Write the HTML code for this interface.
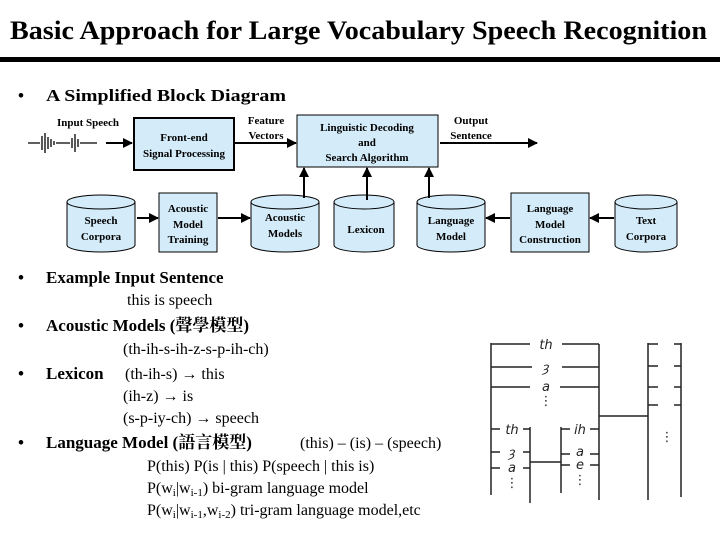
<!DOCTYPE html>
<html><head><meta charset="utf-8"><style>
html,body{margin:0;padding:0;background:#fff;}
svg{display:block;font-family:"Liberation Serif","Noto Serif CJK SC",serif;}
</style></head><body>
<svg width="720" height="540" viewBox="0 0 720 540" xmlns="http://www.w3.org/2000/svg">
<defs>
<marker id="a" viewBox="0 0 10 10" refX="9" refY="5" markerWidth="5" markerHeight="5" orient="auto"><path d="M0,0L10,5L0,10z" fill="#000"/></marker>
</defs>
<text x="10" y="39" font-size="26" font-weight="bold" textLength="697" lengthAdjust="spacingAndGlyphs">Basic Approach for Large Vocabulary Speech Recognition</text>
<rect x="0" y="57" width="720" height="5" fill="#000"/>
<g font-weight="bold" font-size="17">
<text x="18" y="101">•</text><text x="46" y="101" textLength="240" lengthAdjust="spacingAndGlyphs">A Simplified Block Diagram</text>
<text x="18" y="283">•</text><text x="46" y="283">Example Input Sentence</text>
<text x="18" y="331">•</text><text x="46" y="331">Acoustic Models (聲學模型)</text>
<text x="18" y="379">•</text><text x="46" y="379">Lexicon</text>
<text x="18" y="448">•</text><text x="46" y="448">Language Model (語言模型)</text>
</g>
<g font-size="16">
<text x="127" y="305">this is speech</text>
<text x="123" y="354">(th-ih-s-ih-z-s-p-ih-ch)</text>
<text x="125" y="379">(th-ih-s) → this</text>
<text x="123" y="401">(ih-z) → is</text>
<text x="123" y="423">(s-p-iy-ch) → speech</text>
<text x="300" y="448">(this) – (is) – (speech)</text>
<text x="147" y="471">P(this) P(is | this) P(speech | this is)</text>
<text x="147" y="493">P(w<tspan font-size="11" dy="3">i</tspan><tspan dy="-3">|w</tspan><tspan font-size="11" dy="3">i-1</tspan><tspan dy="-3">)        bi-gram language  model</tspan></text>
<text x="147" y="515">P(w<tspan font-size="11" dy="3">i</tspan><tspan dy="-3">|w</tspan><tspan font-size="11" dy="3">i-1</tspan><tspan dy="-3">,w</tspan><tspan font-size="11" dy="3">i-2</tspan><tspan dy="-3">) tri-gram language model,etc</tspan></text>
</g>
<!-- block diagram -->
<g font-size="11" font-weight="bold" text-anchor="middle">
<text x="88" y="126">Input Speech</text>
<path d="M28,143 L40,143 M42,136 L42,150 M45,133 L45,153 M48,137 L48,149 M51,139 L51,147 M54,141 L54,145 M56,143 L70,143 M72,138 L72,148 M75,134 L75,152 M78,139 L78,147 M80,143 L97,143" stroke="#000" stroke-width="1.3" fill="none"/>
<line x1="106" y1="143" x2="132" y2="143" stroke="#000" stroke-width="2" marker-end="url(#a)"/>
<rect x="134" y="118" width="100" height="52" fill="#d4ecf9" stroke="#000" stroke-width="2"/>
<text x="184" y="141">Front-end</text><text x="184" y="157">Signal Processing</text>
<text x="266" y="124">Feature</text><text x="266" y="139">Vectors</text>
<line x1="235" y1="143" x2="296" y2="143" stroke="#000" stroke-width="2" marker-end="url(#a)"/>
<rect x="297" y="115" width="141" height="52" fill="#d4ecf9" stroke="#000" stroke-width="1"/>
<text x="367" y="131">Linguistic Decoding</text><text x="367" y="146">and</text><text x="367" y="161">Search Algorithm</text>
<text x="471" y="124">Output</text><text x="471" y="139">Sentence</text>
<line x1="440" y1="143" x2="537" y2="143" stroke="#000" stroke-width="2" marker-end="url(#a)"/>
<g fill="#d4ecf9" stroke="#000" stroke-width="1">
<path d="M67,202 V245 A34,7 0 0 0 135,245 V202 A34,7 0 0 0 67,202 A34,7 0 0 0 135,202"/>
<path d="M251,202 V245 A34,7 0 0 0 319,245 V202 A34,7 0 0 0 251,202 A34,7 0 0 0 319,202"/>
<path d="M334,202 V245 A30,7 0 0 0 394,245 V202 A30,7 0 0 0 334,202 A30,7 0 0 0 394,202"/>
<path d="M417,202 V245 A34,7 0 0 0 485,245 V202 A34,7 0 0 0 417,202 A34,7 0 0 0 485,202"/>
<path d="M615,202 V245 A31,7 0 0 0 677,245 V202 A31,7 0 0 0 615,202 A31,7 0 0 0 677,202"/>
<rect x="159" y="193" width="58" height="59"/>
<rect x="511" y="193" width="78" height="59"/>
</g>
<text x="101" y="224">Speech</text><text x="101" y="240">Corpora</text>
<text x="188" y="212">Acoustic</text><text x="188" y="228">Model</text><text x="188" y="243">Training</text>
<text x="285" y="221">Acoustic</text><text x="285" y="237">Models</text>
<text x="366" y="233">Lexicon</text>
<text x="451" y="224">Language</text><text x="451" y="240">Model</text>
<text x="550" y="212">Language</text><text x="550" y="228">Model</text><text x="550" y="243">Construction</text>
<text x="646" y="224">Text</text><text x="646" y="240">Corpora</text>
<g stroke="#000" stroke-width="2" marker-end="url(#a)">
<line x1="137" y1="218" x2="158" y2="218"/>
<line x1="218" y1="218" x2="250" y2="218"/>
<line x1="304" y1="198" x2="304" y2="168"/>
<line x1="367" y1="200" x2="367" y2="168"/>
<line x1="429" y1="198" x2="429" y2="168"/>
<line x1="510" y1="218" x2="486" y2="218"/>
<line x1="614" y1="218" x2="590" y2="218"/>
</g>
</g>
<!-- handwritten diagram -->
<g stroke="#222" stroke-width="1.5" fill="none">
<line x1="491" y1="343" x2="491" y2="495"/>
<line x1="599" y1="344" x2="599" y2="500"/>
<path d="M491,344H530 M562,344H599 M491,367H532 M562,367H599 M491,387H530 M560,387H599"/>
<line x1="530" y1="427" x2="530" y2="503"/>
<path d="M491,429H500 M523,429H530 M491,452H500 M523,452H530 M491,468H500 M523,468H530"/>
<line x1="530" y1="462" x2="561" y2="462"/>
<line x1="561" y1="427" x2="561" y2="493"/>
<path d="M561,429H570 M590,429H599 M561,454H570 M590,454H599 M561,465H570 M590,465H599"/>
<line x1="599" y1="416" x2="648" y2="416"/>
<line x1="648" y1="343" x2="648" y2="500"/>
<line x1="681" y1="343" x2="681" y2="497"/>
<path d="M648,344H658 M674,344H681 M648,366H658 M674,366H681 M648,387H658 M674,387H681 M648,405H658 M674,405H681"/>
</g>
<g font-family="'DejaVu Sans',sans-serif" font-size="13" fill="#222" font-style="italic" text-anchor="middle">
<text x="546" y="349">th</text><text x="546" y="372">ȝ</text><text x="546" y="391">a</text><text x="546" y="405">⋮</text>
<text x="512" y="434">th</text><text x="512" y="457">ȝ</text><text x="512" y="472">a</text><text x="512" y="487">⋮</text>
<text x="580" y="434">ih</text><text x="580" y="456">a</text><text x="580" y="469">e</text><text x="580" y="484">⋮</text>
<text x="667" y="441">⋮</text>
</g>
</svg>
</body></html>
